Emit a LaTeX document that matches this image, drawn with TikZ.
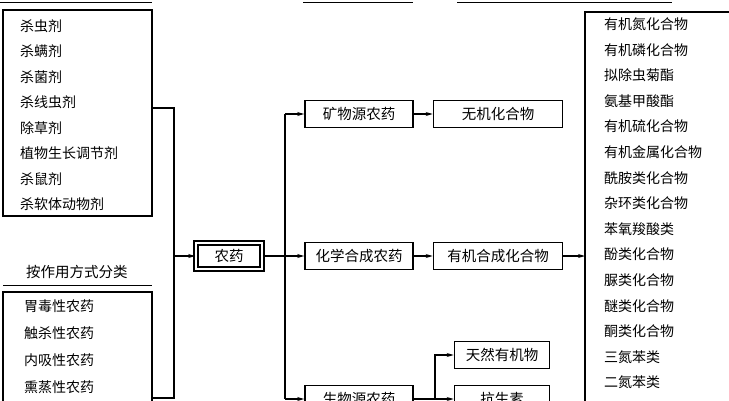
\documentclass[tikz,border=0pt]{standalone}
\usepackage{fontspec}
\setmainfont{Noto Sans CJK SC}
\usetikzlibrary{arrows.meta,positioning}
\begin{document}
\begin{tikzpicture}[x=1pt,y=-1pt,
  box/.style={draw,line width=1.6pt,minimum height=27pt,inner sep=3pt,font=\fontsize{14.5}{14.5}\selectfont},
  item/.style={anchor=west,inner sep=0pt,font=\fontsize{14}{14}\selectfont},
  link/.style={line width=1.1pt},
  arr/.style={line width=1.1pt,-{Stealth[length=7pt,width=4pt]}}]
  \useasboundingbox (0,0) rectangle (729,400);
  \clip (0,0) rectangle (729,400);
  % header lines at the top
  \draw[line width=1pt] (0,2) -- (152,2);
  \draw[line width=1pt] (303,2) -- (413,2);
  \draw[line width=1pt] (457,2) -- (672,2);
  % left lists
  \draw[line width=1.8pt] (3,10) rectangle (152,216);
  \foreach \t [count=\i] in {杀虫剂,杀螨剂,杀菌剂,杀线虫剂,除草剂,植物生长调节剂,杀鼠剂,杀软体动物剂}
    \node[item] (use\i) at (20,{25.5*\i+0.5}) {\t};
  \node[font=\fontsize{14.5}{14.5}\selectfont] (mode) at (77,272) {按作用方式分类};
  \draw[line width=1pt] (3,285) -- (152,285);
  \draw[line width=1.8pt] (3,292) rectangle (152,420);
  \foreach \t [count=\i] in {胃毒性农药,触杀性农药,内吸性农药,熏蒸性农药}
    \node[item] (mode\i) at (24,{279+27*\i}) {\t};
  % centre
  \node[box,minimum width=66pt,minimum height=26pt,double,double distance=2pt] (pest) at (229,256) {农药};
  \coordinate (la) at (152,108);
  \coordinate (lb) at (152,398);
  \draw[link] (la) -| (174,398) -- (lb);
  \draw[arr] (174,256) -- (pest.west);
  \node[box,minimum width=108pt] (mine) at (359,114) {矿物源农药};
  \node[box,minimum width=108pt] (chem) at (359,256) {化学合成农药};
  \node[box,minimum width=108pt] (bio) at (359,399) {生物源农药};
  \draw[link] (pest.east) -- (285,256);
  \draw[link] (285,114) -- (285,399);
  \draw[arr] (285,114) -- (mine.west);
  \draw[arr] (285,256) -- (chem.west);
  \draw[arr] (285,399) -- (bio.west);
  \node[box,minimum width=129pt] (inorg) at (498,114) {无机化合物};
  \node[box,minimum width=129pt] (org) at (498,256) {有机合成化合物};
  \draw[arr] (mine) -- (inorg);
  \draw[arr] (chem) -- (org);
  \node[box,minimum width=95pt] (nat) at (502,355) {天然有机物};
  \node[box,minimum width=95pt] (anti) at (502,399) {抗生素};
  \draw[link] (bio.east) -- (435,399);
  \draw[arr] (435,399) |- (nat.west);
  \draw[arr] (435,399) -- (anti.west);
  % right list
  \draw[line width=1.8pt] (585,12) rectangle (760,420);
  \coordinate (rl) at (585,256);
  \draw[arr] (org.east) -- (rl);
  \foreach \t [count=\i] in {有机氮化合物,有机磷化合物,拟除虫菊酯,氨基甲酸酯,有机硫化合物,有机金属化合物,酰胺类化合物,杂环类化合物,苯氧羧酸类,酚类化合物,脲类化合物,醚类化合物,酮类化合物,三氮苯类,二氮苯类}
    \node[item] (chem\i) at (604,{-1.5+25.6*\i}) {\t};
\end{tikzpicture}
\end{document}
